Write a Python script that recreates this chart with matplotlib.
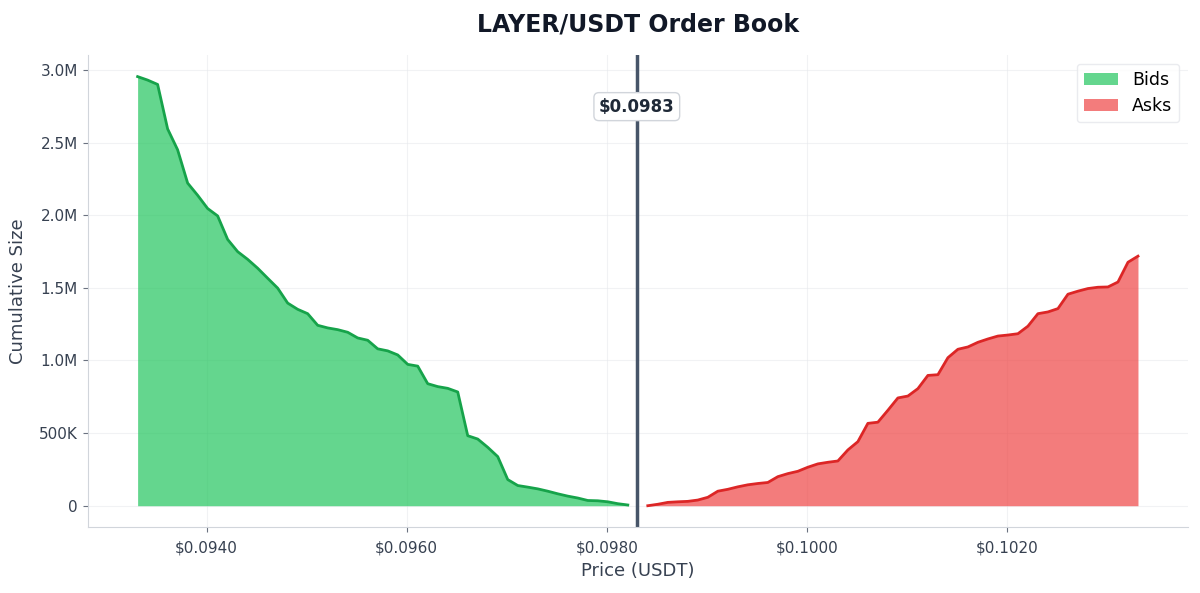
import matplotlib
matplotlib.use("Agg")
import matplotlib.pyplot as plt
from matplotlib.ticker import FuncFormatter
import numpy as np

# price levels (USDT), 0.0001 apart
bid_prices = np.round(np.arange(50) * 0.0001 + 0.09331, 5)
ask_prices = np.round(np.arange(50) * 0.0001 + 0.09841, 5)
mid_price = 0.0983

# cumulative size
bid_sizes = [2954000, 2930000, 2900000, 2594000, 2450000, 2221000, 2137000, 2046000, 1995000, 1833000,
             1749000, 1696000, 1635000, 1566000, 1498000, 1395000, 1352000, 1322000, 1242000, 1224000,
             1212000, 1194000, 1155000, 1139000, 1080000, 1066000, 1038000, 973000, 961000, 840000,
             820000, 808000, 783000, 482000, 459000, 402000, 338000, 180000, 139000, 128000,
             116000, 100000, 82000, 66000, 53000, 36000, 34000, 27000, 14000, 5000]
ask_sizes = [0, 10000, 23000, 27000, 30000, 39000, 58000, 100000, 113000, 130000,
             144000, 153000, 160000, 200000, 221000, 237000, 265000, 288000, 299000, 308000,
             384000, 441000, 567000, 575000, 657000, 742000, 755000, 806000, 897000, 902000,
             1019000, 1077000, 1093000, 1125000, 1148000, 1168000, 1175000, 1184000, 1236000, 1322000,
             1334000, 1357000, 1456000, 1477000, 1495000, 1504000, 1506000, 1540000, 1676000, 1718000]

fig = plt.figure(figsize=(12, 5.93), dpi=100)
ax = fig.add_axes([0.073, 0.111, 0.917, 0.796])

ax.fill_between(bid_prices, bid_sizes, color="#22c55e", alpha=0.7, linewidth=0, label="Bids")
ax.plot(bid_prices, bid_sizes, color="#16a34a", linewidth=2)
ax.fill_between(ask_prices, ask_sizes, color="#ef4444", alpha=0.7, linewidth=0, label="Asks")
ax.plot(ask_prices, ask_sizes, color="#dc2626", linewidth=2)

ax.axvline(mid_price, color="#475569", linewidth=2.5)
ax.text(mid_price, max(bid_sizes) * 0.93, f"${mid_price:.4f}", ha="center", va="center",
        fontsize=12, fontweight="bold", color="#1f2937",
        bbox=dict(boxstyle="round,pad=0.3", facecolor="white", edgecolor="#d1d5db"))

ax.xaxis.set_major_formatter(FuncFormatter(lambda v, p: f"${v:.4f}"))


def size_fmt(v, p):
    if v >= 1e6:
        return f"{v / 1e6:.1f}M"
    if v >= 1e3:
        return f"{v / 1e3:.0f}K"
    return f"{v:.0f}"


ax.yaxis.set_major_formatter(FuncFormatter(size_fmt))

ax.set_title("LAYER/USDT Order Book", fontsize=17, fontweight="bold", color="#111827", pad=17)
ax.set_xlabel("Price (USDT)", fontsize=13, color="#374151", labelpad=5)
ax.set_ylabel("Cumulative Size", fontsize=13, color="#374151", labelpad=9)
ax.tick_params(colors="#374151", labelsize=11)
ax.tick_params(axis="both", color="#6b7280")
ax.tick_params(axis="x", pad=6)

for s in ["top", "right"]:
    ax.spines[s].set_visible(False)
for s in ["left", "bottom"]:
    ax.spines[s].set_color("#d1d5db")
ax.grid(True, color="#e5e7eb", alpha=0.5, linewidth=0.8)
ax.set_axisbelow(True)

leg = ax.legend(loc="upper right", fontsize=12.5, frameon=True)
leg.get_frame().set_edgecolor("#e5e7eb")

fig.savefig("out.png", dpi=100, facecolor="white")
